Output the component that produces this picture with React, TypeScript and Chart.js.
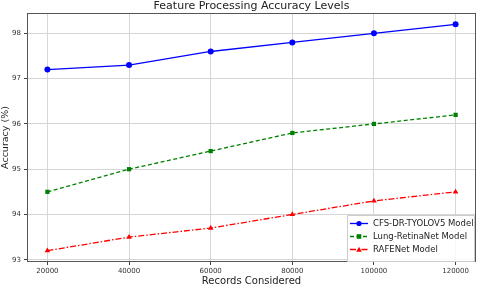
import React, { useEffect, useRef } from "react";
import { Chart, registerables } from "chart.js";

Chart.register(...registerables);

const records = [20000, 40000, 60000, 80000, 100000, 120000];
const cfsValues = [97.2, 97.3, 97.6, 97.8, 98.0, 98.2];
const lungValues = [94.5, 95.0, 95.4, 95.8, 96.0, 96.2];
const rafeValues = [93.2, 93.5, 93.7, 94.0, 94.3, 94.5];
const seriesNames = ["CFS-DR-TYOLOV5 Model", "Lung-RetinaNet Model", "RAFENet Model"];
const yTicks = [93, 94, 95, 96, 97, 98];
const chartTitle = "Feature Processing Accuracy Levels";
const xTitle = "Records Considered";
const yTitle = "Accuracy (%)";

const FONT = "'DejaVu Sans', sans-serif";
const colors = ["#0000ff", "#008000", "#ff0000"];
const dashes: number[][] = [[], [4, 2.5], [6, 2, 1.5, 2]];
const markers = ["circle", "rect", "triangle"];

const decorPlugin = {
  id: "decor",
  afterDraw(chart: any) {
    const ctx = chart.ctx as CanvasRenderingContext2D;
    const a = chart.chartArea;
    ctx.save();
    // frame
    ctx.strokeStyle = "#555555";
    ctx.lineWidth = 1;
    ctx.strokeRect(a.left + 0.5, a.top + 0.5, a.right - a.left - 1, a.bottom - a.top - 1);
    // title
    ctx.fillStyle = "#222222";
    ctx.textAlign = "center";
    ctx.textBaseline = "middle";
    ctx.font = `11px ${FONT}`;
    ctx.fillText(chartTitle, (a.left + a.right) / 2, 6);
    // x title
    ctx.font = `10px ${FONT}`;
    ctx.fillText(xTitle, (a.left + a.right) / 2, 281);
    // y title
    ctx.save();
    ctx.translate(6, (a.top + a.bottom) / 2);
    ctx.rotate(-Math.PI / 2);
    ctx.font = `9.5px ${FONT}`;
    ctx.fillText(yTitle, 0, 0);
    ctx.restore();
    // legend
    const lx = 347, ly = 215, lw = 127, lh = 46;
    ctx.fillStyle = "rgba(255,255,255,0.85)";
    ctx.strokeStyle = "#cccccc";
    ctx.beginPath();
    ctx.rect(lx + 0.5, ly + 0.5, lw, lh);
    ctx.fill();
    ctx.stroke();
    const rows = [223.5, 236.5, 249.5];
    for (let i = 0; i < 3; i++) {
      const y = rows[i];
      ctx.strokeStyle = colors[i];
      ctx.lineWidth = 1.3;
      ctx.setLineDash(dashes[i]);
      ctx.beginPath();
      ctx.moveTo(350, y);
      ctx.lineTo(368, y);
      ctx.stroke();
      ctx.setLineDash([]);
      ctx.fillStyle = colors[i];
      const cx = 359;
      ctx.beginPath();
      if (i === 0) ctx.arc(cx, y, 2.6, 0, Math.PI * 2);
      else if (i === 1) ctx.rect(cx - 2.3, y - 2.3, 4.6, 4.6);
      else {
        ctx.moveTo(cx, y - 2.8);
        ctx.lineTo(cx + 2.8, y + 2.2);
        ctx.lineTo(cx - 2.8, y + 2.2);
        ctx.closePath();
      }
      ctx.fill();
      ctx.fillStyle = "#222222";
      ctx.textAlign = "left";
      ctx.font = `8.5px ${FONT}`;
      ctx.fillText(seriesNames[i], 373, y);
    }
    ctx.restore();
  },
};

export default function App() {
  const ref = useRef<HTMLCanvasElement>(null);
  useEffect(() => {
    if (!ref.current) return;
    const allValues = [cfsValues, lungValues, rafeValues];
    const chart = new Chart(ref.current, {
      type: "line",
      data: {
        datasets: allValues.map((vals, i) => ({
          label: seriesNames[i],
          data: records.map((r, j) => ({ x: r, y: vals[j] })),
          borderColor: colors[i],
          backgroundColor: colors[i],
          borderWidth: 1.3,
          borderDash: dashes[i],
          pointStyle: markers[i] as any,
          pointRadius: i === 2 ? 3.2 : 3,
          pointBorderWidth: 0,
          tension: 0,
          fill: false,
        })),
      },
      options: {
        responsive: false,
        animation: false,
        layout: { padding: { left: 0, right: 4, top: 13, bottom: 0 } },
        plugins: { legend: { display: false }, title: { display: false }, tooltip: { enabled: false } },
        scales: {
          x: {
            type: "linear",
            min: 15000,
            max: 125000,
            afterBuildTicks: (s: any) => {
              s.ticks = records.map((v) => ({ value: v }));
            },
            afterFit: (s: any) => {
              s.height = 23;
            },
            grid: { color: "#d6d6d6", lineWidth: 1, tickLength: 3, tickColor: "#444" },
            border: { display: false },
            ticks: {
              font: { family: FONT, size: 7 },
              color: "#333",
              padding: 2,
              maxRotation: 0,
              callback: (v: any) => String(v),
            },
          },
          y: {
            min: 92.95,
            max: 98.45,
            afterBuildTicks: (s: any) => {
              s.ticks = yTicks.map((v) => ({ value: v }));
            },
            afterFit: (s: any) => {
              s.width = 27;
            },
            grid: { color: "#d6d6d6", lineWidth: 1, tickLength: 3, tickColor: "#444" },
            border: { display: false },
            ticks: {
              font: { family: FONT, size: 7 },
              color: "#333",
              padding: 3,
              callback: (v: any) => String(v),
            },
          },
        },
      },
      plugins: [decorPlugin],
    });
    return () => chart.destroy();
  }, []);
  return (
    <div style={{ position: "absolute", left: 0, top: 0, width: 480, height: 285, background: "#fff" }}>
      <canvas ref={ref} width={480} height={285} />
    </div>
  );
}
